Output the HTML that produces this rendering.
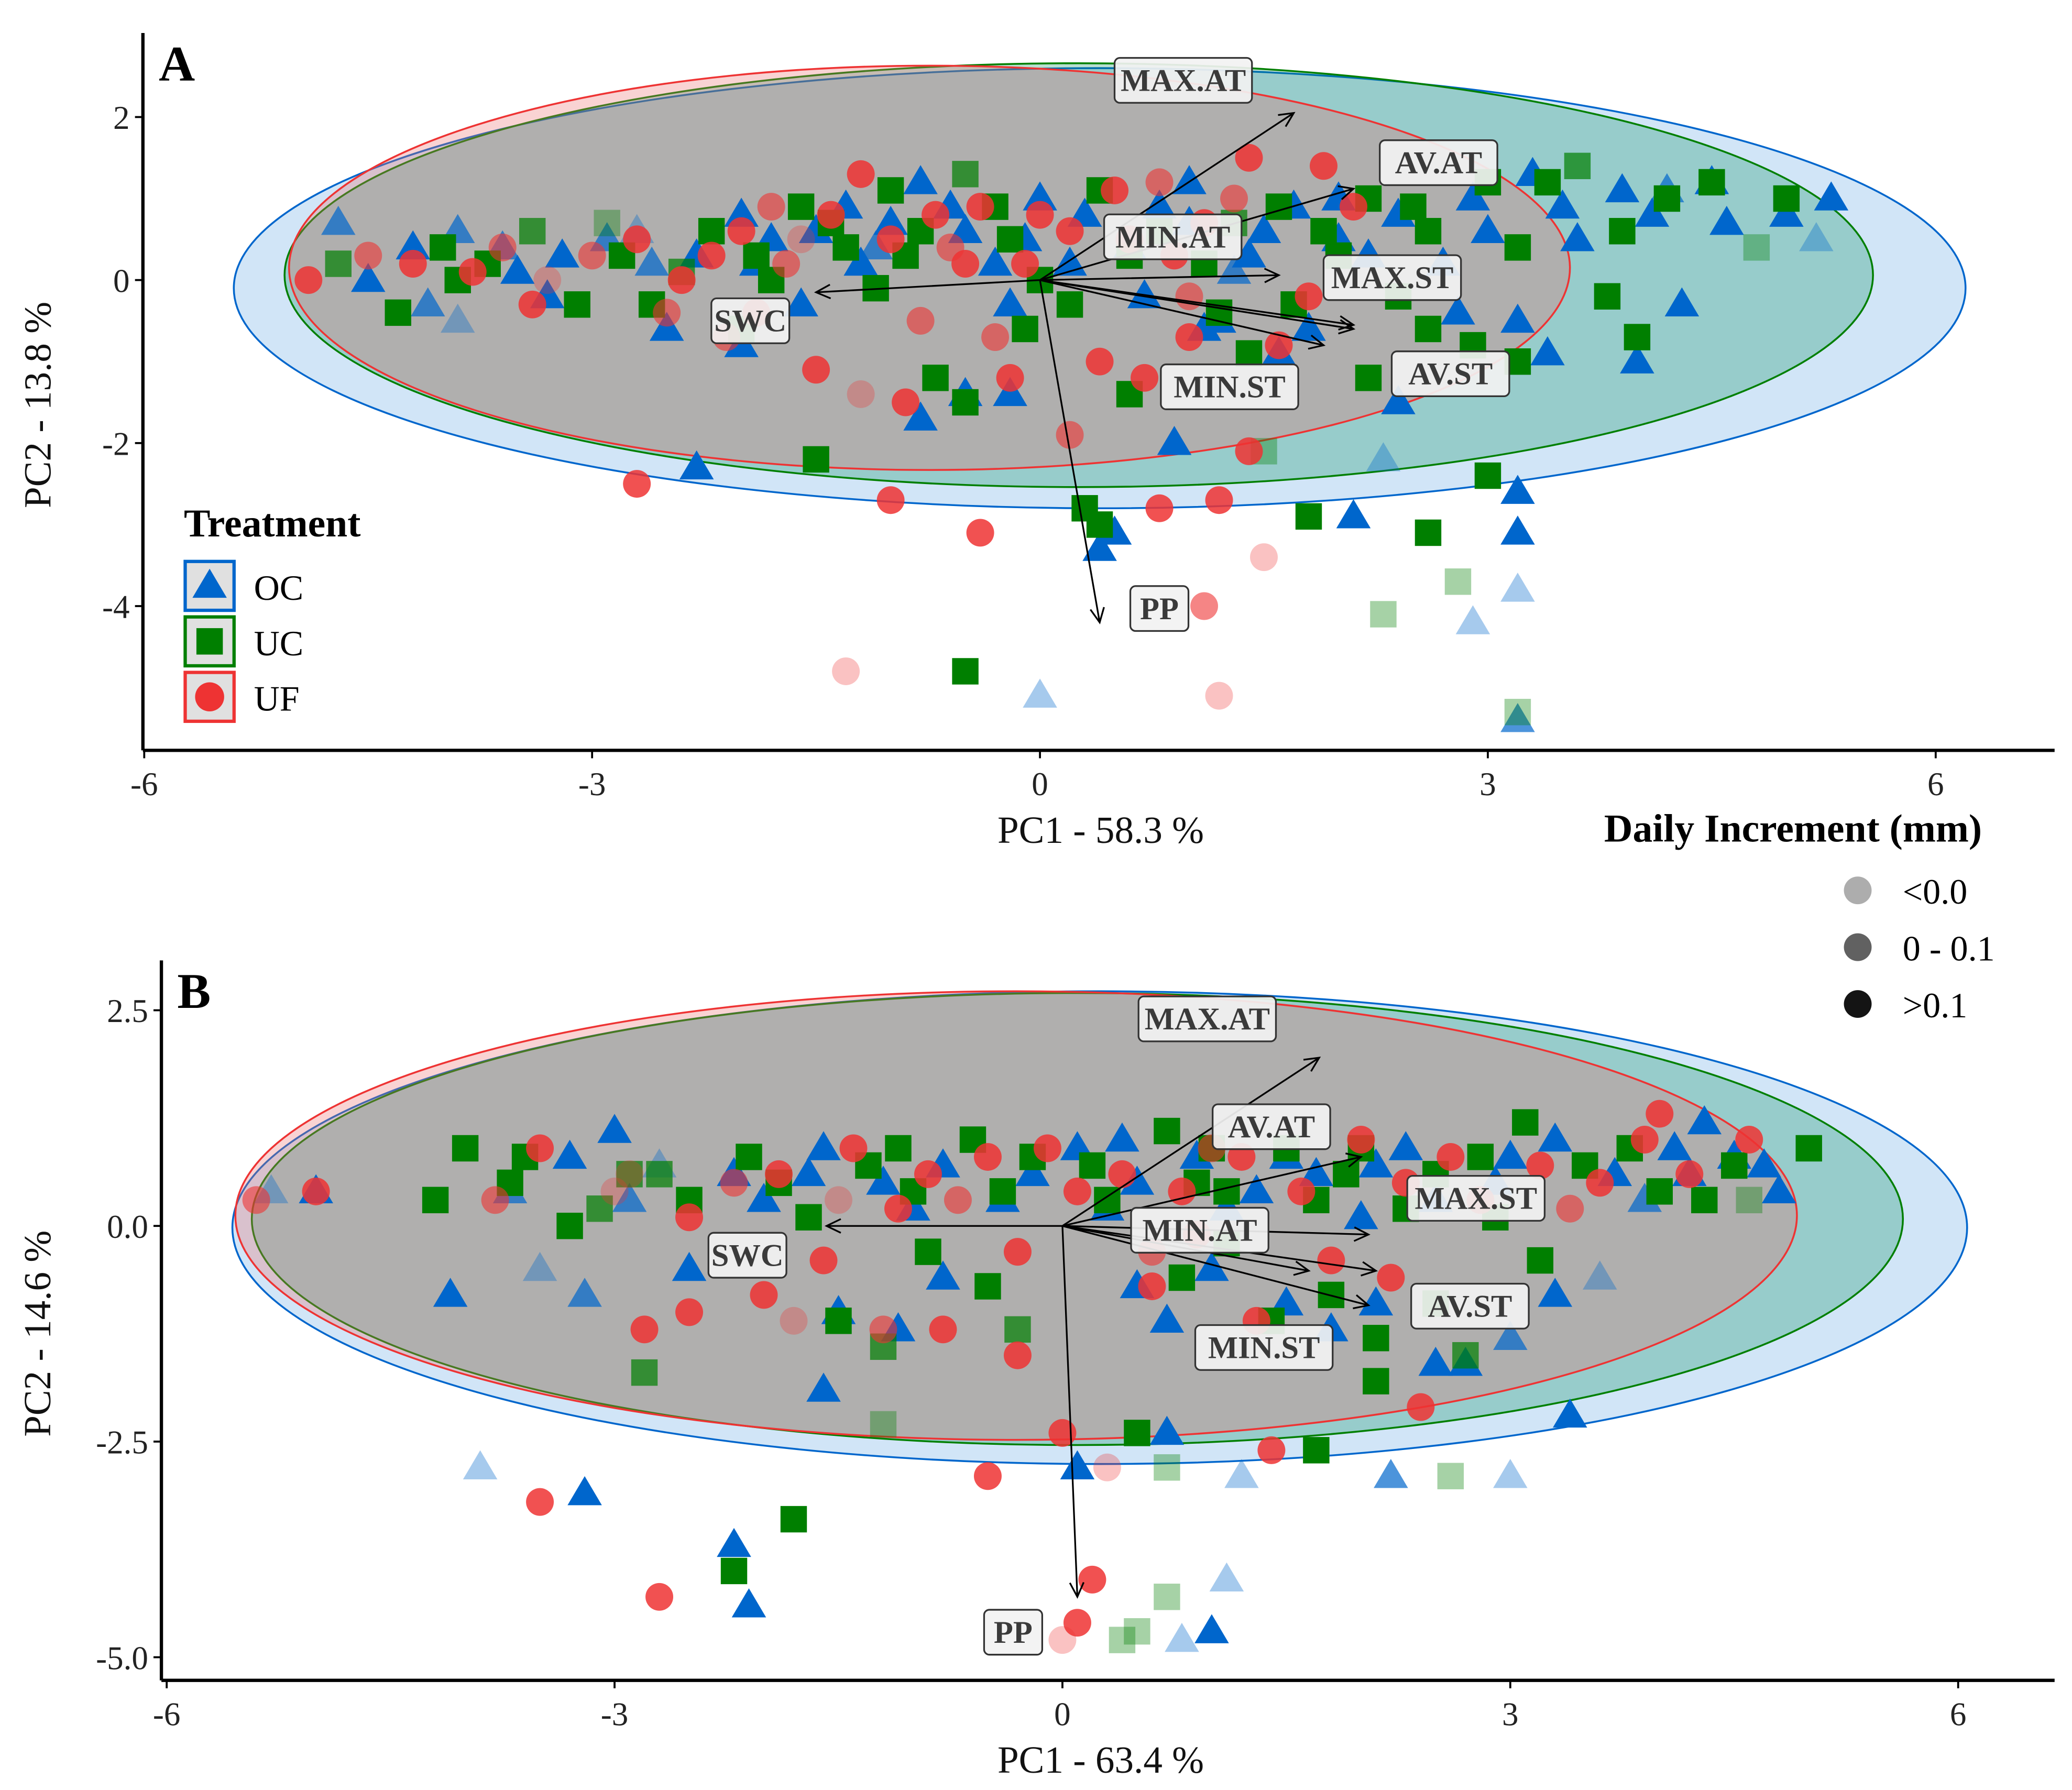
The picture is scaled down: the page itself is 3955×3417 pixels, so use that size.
<!DOCTYPE html>
<html><head><meta charset="utf-8"><style>
html,body{margin:0;padding:0;background:#fff}
svg{display:block}
text{font-family:"Liberation Serif",serif}
</style></head><body>
<svg id="chart" xmlns="http://www.w3.org/2000/svg" width="3955" height="3417" viewBox="0 0 1568 1355" font-family="Liberation Serif, serif">
<g id="root"></g>
</svg>
<script>
// ---------- DATA ----------
const xTicks = [-6, -3, 0, 3, 6];
const yTicksA = [2, 0, -2, -4];
const yTicksB = [2.5, 0, -2.5, -5];
const yTickLabelsB = ["2.5", "0.0", "-2.5", "-5.0"];
const treatments = ["OC", "UC", "UF"];
const incrementLabels = ["<0.0", "0 - 0.1", ">0.1"];
// points: [pc1, pc2, incrementClass(0,1,2)]
const ocA = [[-4.5,0,2],[-4.2,0.4,2],[-3.9,0.6,1],[-3.5,0.1,2],[-3.2,0.3,2],[-2.9,0.5,1],[-2.5,-0.6,2],[-2.3,0.3,2],[-2,0.8,2],[-1.8,0.5,2],[-1.5,0.6,2],[-1.3,0.9,2],[-1,0.7,2],[-0.8,1.2,2],[-0.5,0.6,2],[-0.3,0.2,2],[0,1,2],[0.3,0.8,2],[0.6,0.4,2],[1,0.7,2],[1.4,0.3,2],[1.7,0.9,2],[2,0.5,2],[2.4,0.8,2],[2.7,0.2,2],[3,0.6,2],[3.3,1.3,2],[3.6,0.5,2],[3.9,1.1,2],[4.1,0.8,2],[4.5,1.2,2],[4.6,0.7,2],[5,0.8,2],[5.3,1,2],[5.2,0.5,0],[3.2,-0.5,2],[4.3,-0.3,2],[4,-1,2],[3.4,-0.9,2],[2.4,-1.5,2],[1.8,-0.6,2],[0.9,-2,2],[0.5,-3.1,2],[0.4,-3.3,2],[-0.8,-1.7,2],[-0.5,-1.4,2],[-0.2,-1.4,2],[-2.3,-2.3,2],[3.2,-2.6,2],[3.2,-3.1,2],[2.1,-2.9,2],[0,-5.1,0],[2.9,-4.2,0],[3.2,-3.8,0],[3.2,-5.4,1],[2.3,-2.2,0],[-2,-0.8,2],[-3.9,-0.5,0],[-4.7,0.7,1],[-0.2,-0.3,2],[1.1,-0.6,2],[2,1,2],[1.5,0.6,2],[0.2,0.2,2],[-1.2,0.2,2],[-2.6,0.2,1],[-3.3,-0.2,2],[1.2,-0.5,2],[-3.6,0.4,1],[-2.7,0.6,0],[-1.9,0.2,2],[-1.1,0.4,1],[-0.6,0.9,2],[0.8,0.9,2],[1.3,0.1,1],[2.2,0.3,2],[2.9,1.0,2],[3.5,0.9,2],[4.2,1.1,1],[-1.6,-0.3,2],[0.7,-0.2,2],[1.6,-0.9,2],[2.8,-0.4,2],[-4.1,-0.3,1],[-0.1,0.5,2],[1.0,1.2,2]];
const ucA = [[-4.3,-0.4,2],[-4,0.4,2],[-3.7,0.2,2],[-3.4,0.6,1],[-3.1,-0.3,2],[-2.8,0.3,2],[-2.6,-0.3,2],[-2.2,0.6,2],[-1.9,0.3,2],[-1.6,0.9,2],[-1.3,0.4,2],[-1,1.1,2],[-0.8,0.6,2],[-0.5,1.3,1],[-0.2,0.5,2],[0.4,1.1,2],[0.8,0.6,2],[1.1,0.2,2],[1.6,0.9,2],[2.2,1,2],[2.6,0.6,2],[3,1.2,2],[3.6,1.4,1],[3.9,0.6,2],[4.2,1,2],[4.5,1.2,2],[5,1,2],[4.8,0.4,0],[3.8,-0.2,2],[4,-0.7,2],[3.2,-1,2],[2.9,-0.8,2],[2.2,-1.2,2],[2.6,-0.6,2],[1.4,-0.9,2],[0.6,-1.4,2],[-0.5,-1.5,2],[-0.7,-1.2,2],[-1.5,-2.2,2],[0.3,-2.8,2],[0.4,-3,2],[1.8,-2.9,2],[2.6,-3.1,2],[3,-2.4,2],[2.8,-3.7,0],[2.3,-4.1,0],[-0.5,-4.8,2],[3.2,-5.3,0],[1.5,-2.1,0],[-0.1,-0.6,2],[1.2,-0.4,2],[-2,-0.6,2],[0,0,2],[-1.8,0,2],[2,0.3,2],[3.4,1.2,2],[-4.7,0.2,1],[-3.9,0.0,2],[-2.4,0.1,1],[-1.4,0.7,2],[-0.9,0.3,2],[-0.3,0.9,2],[0.6,0.3,2],[1.3,0.7,1],[1.9,0.6,2],[2.5,0.9,2],[3.2,0.4,2],[-1.1,-0.1,2],[0.2,-0.3,2],[1.7,-0.3,2],[2.4,-0.2,2],[-2.9,0.7,0]];
const ufA = [[-4.9,0,2],[-4.5,0.3,1],[-4.2,0.2,2],[-3.8,0.1,2],[-3.4,-0.3,2],[-3,0.3,1],[-2.7,0.5,2],[-2.4,0,2],[-2,0.6,2],[-1.7,0.2,1],[-1.4,0.8,2],[-1.2,1.3,2],[-1,0.5,2],[-0.7,0.8,2],[-0.4,0.9,2],[-0.1,0.2,2],[0.2,0.6,2],[0.5,1.1,2],[0.8,1.2,1],[1.1,0.7,2],[1.4,1.5,2],[1.9,1.4,2],[2.1,0.9,2],[1.8,-0.2,2],[1.6,-0.8,2],[1,-0.7,2],[0.7,-1.2,2],[0.2,-1.9,1],[-0.2,-1.2,2],[-0.9,-1.5,2],[-1.2,-1.4,0],[-1.5,-1.1,2],[-2.7,-2.5,2],[-1,-2.7,2],[-0.4,-3.1,2],[0.8,-2.8,2],[1.2,-2.7,2],[1.5,-3.4,0],[1.1,-4,1],[1.2,-5.1,0],[-1.3,-4.8,0],[1.4,-2.1,2],[0.4,-1,2],[-0.5,0.2,2],[0.9,0.3,2],[-2.1,-0.7,1],[-1.9,-0.4,2],[-3.3,0,0],[-0.8,-0.5,1],[-3.6,0.4,1],[-2.2,0.3,2],[-1.6,0.5,0],[-0.6,0.4,1],[0.0,0.8,2],[0.6,0.5,2],[1.3,1.0,1],[-1.8,0.9,1],[-0.3,-0.7,1],[1.0,-0.2,1],[-2.5,-0.4,1]];
const ocB = [[-5.3,0.4,0],[-5,0.4,2],[-4.1,-0.8,2],[-3.5,-0.5,0],[-3.2,-0.8,1],[-3,1.1,2],[-2.5,-0.5,2],[-2,0.3,2],[-1.6,0.9,2],[-1.2,0.5,2],[-0.8,0.7,2],[-0.4,0.3,2],[0.1,0.9,2],[0.5,0.5,2],[0.9,0.8,2],[1.3,0.4,2],[1.7,0.6,2],[2.1,0.7,2],[2.5,0.3,2],[2.9,0.5,2],[3.3,1,2],[3.7,0.6,2],[4.1,0.9,2],[4.3,1.2,2],[4.7,0.7,2],[4.8,0.4,2],[4.2,0.6,2],[3.6,-0.6,0],[3.3,-0.8,2],[3,-1.3,1],[2.7,-1.6,2],[2.5,-1.6,2],[3.4,-2.2,2],[1.8,-1.2,2],[1.5,-0.9,2],[0.7,-1.1,2],[-0.8,-0.6,2],[-1.5,-1,2],[-1.6,-1.9,2],[0.7,-2.4,2],[0.1,-2.8,2],[-3.9,-2.8,0],[-3.2,-3.1,2],[-2.2,-3.7,2],[-2.1,-4.4,2],[1.1,-4.1,0],[1,-4.7,2],[0.8,-4.8,0],[2.2,-2.9,1],[3,-2.9,0],[1.2,-2.9,0],[-1.7,0.6,2],[0.3,0.2,2],[2,0.1,2],[-2.9,0.3,1],[1.1,0.2,2],[-3.7,0.4,1],[-2.7,0.7,0],[-2.2,0.6,2],[-1.0,0.2,2],[-0.2,0.6,2],[0.4,1.0,2],[1.5,0.8,2],[2.3,0.9,2],[3.0,0.8,2],[3.9,0.3,1],[-1.1,-1.2,2],[0.5,-0.7,2],[1.0,-0.5,2],[2.1,-0.9,2],[-3.3,0.8,2],[4.5,0.8,2]];
const ucB = [[-4.2,0.3,2],[-4,0.9,2],[-3.6,0.8,2],[-3.3,0,2],[-2.9,0.6,1],[-2.5,0.3,2],[-2.1,0.8,2],[-1.7,0.1,2],[-1.3,0.7,2],[-1,0.4,2],[-0.6,1,2],[-0.2,0.8,2],[0.3,0.3,2],[0.7,1.1,2],[1.1,0.4,2],[1.5,0.9,2],[1.9,0.6,2],[2.3,0.2,2],[2.8,0.8,2],[3.1,1.2,2],[3.5,0.7,2],[4,0.4,2],[4.5,0.7,2],[5,0.9,2],[4.6,0.3,0],[3.2,-0.4,2],[2.5,-0.9,2],[2.1,-1.3,2],[2.1,-1.8,2],[2.7,-1.5,1],[1.4,-1.1,2],[0.8,-0.6,2],[-0.5,-0.7,2],[-1.5,-1.1,2],[-1.2,-1.4,1],[-2.8,-1.7,1],[-1.8,-3.4,2],[-2.2,-4,2],[-1.2,-2.3,0],[0.5,-2.4,2],[1.7,-2.6,2],[2.6,-2.9,0],[0.7,-4.3,0],[0.4,-4.8,0],[0.5,-4.7,0],[0.7,-2.8,0],[-0.3,-1.2,1],[1,0.9,2],[2,0.9,2],[-3.7,0.5,2],[-2.7,0.6,1],[-1.9,0.5,2],[-1.1,0.9,2],[-0.4,0.4,2],[0.2,0.7,2],[0.9,0.5,2],[1.7,0.3,2],[2.5,0.6,2],[3.8,0.9,2],[4.3,0.3,2],[-0.9,-0.3,2],[1.1,-0.2,2],[1.8,-0.8,2],[-3.1,0.2,1],[2.9,0.1,2]];
const ufB = [[-5.4,0.3,1],[-5,0.4,2],[-3.5,0.9,2],[-3,0.4,0],[-2.5,0.1,2],[-1.9,0.6,2],[-1.4,0.9,2],[-1.1,0.2,2],[-0.9,0.6,2],[-0.5,0.8,2],[-0.1,0.9,2],[0.4,0.6,2],[0.8,0.4,2],[1.2,0.8,2],[1.6,0.4,2],[2,1,2],[2.3,0.5,2],[2.8,0.3,2],[3.2,0.7,2],[3.6,0.5,2],[3.9,1,2],[4,1.3,2],[4.2,0.6,2],[4.6,1,2],[2.2,-0.6,2],[1.3,-1.1,2],[0.6,-0.7,2],[-0.3,-0.3,2],[-0.8,-1.2,2],[-1.2,-1.2,1],[-2,-0.8,2],[-2.5,-1,2],[-2.8,-1.2,2],[-0.3,-1.5,2],[-0.5,-2.9,2],[0,-2.4,2],[0.3,-2.8,0],[1.4,-2.6,2],[2.4,-2.1,2],[-3.5,-3.2,2],[-2.7,-4.3,2],[0.2,-4.1,2],[0.1,-4.6,2],[0,-4.8,0],[-1.8,-1.1,0],[-1.5,0.3,0],[0.9,-0.1,2],[-3.8,0.3,1],[-2.2,0.5,1],[-0.7,0.3,1],[0.1,0.4,2],[1.0,0.9,1],[2.6,0.8,2],[3.4,0.2,1],[-1.6,-0.4,2],[0.6,-0.3,1],[1.8,-0.4,2],[-2.9,0.6,0]];
// ellipses: [cx, cy, rx, ry] per treatment
const ellA = [[0.4,-0.1,5.8,2.7],[0.26,0.06,5.32,2.6],[-0.74,0.15,4.29,2.48]];
const ellB = [[0.25,-0.02,5.81,2.74],[0.1,0.08,5.53,2.62],[-0.31,0.12,5.23,2.6]];
// loadings
const loadNames = ["MAX.AT","AV.AT","MIN.AT","MAX.ST","AV.ST","MIN.ST","SWC","PP"];
const loadEndA = [[1.7,2.05],[2.1,1.12],[1.6,0.06],[2.1,-0.55],[2.1,-0.6],[1.9,-0.8],[-1.5,-0.15],[0.4,-4.2]];
const loadLabA = [[0.96,2.45],[2.67,1.44],[0.89,0.53],[2.36,0.03],[2.75,-1.15],[1.27,-1.31],[-1.94,-0.5],[0.8,-4.03]];
const loadEndB = [[1.72,1.95],[2.0,0.8],[2.05,-0.1],[1.65,-0.52],[2.1,-0.52],[2.05,-0.92],[-1.58,0.0],[0.1,-4.3]];
const loadLabB = [[0.97,2.4],[1.4,1.15],[0.92,-0.05],[2.77,0.32],[2.73,-0.93],[1.35,-1.41],[-2.11,-0.34],[-0.33,-4.71]];

// ---------- DRAW ----------
const NS = "http://www.w3.org/2000/svg";
const root = document.getElementById('root');
const colors = ["#0066cc","#007f00","#ee3333"];
const fills = ["rgba(90,160,225,0.28)","rgba(0,140,90,0.28)","rgba(235,110,110,0.3)"];
const alphas = [0.35,0.7,1];
const FF = '"Liberation Serif", serif';
function mk(tag, attrs, parent){const e=document.createElementNS(NS,tag);for(const k in attrs)e.setAttribute(k,attrs[k]);(parent||root).appendChild(e);return e;}
function txt(s, attrs, parent){attrs['font-family']=FF;const e=mk('text',attrs,parent);e.textContent=s;return e;}

function panel(P){
  const g = mk('g',{});
  
  
  const sx = v => P.x0 + v*P.kx;
  const sy = v => P.y0 - v*P.ky;
  const eg = mk('g',{},g);
  
  
  P.ell.forEach((e,i)=>{
    const el = mk('ellipse',{cx:sx(e[0]),cy:sy(e[1]),rx:e[2]*P.kx,ry:e[3]*P.ky,fill:fills[i],stroke:colors[i],'stroke-width':1.4},eg);
    
    
  });
  P.pts.forEach((arr,i)=>{
    const pg = mk('g',{},g);
    
    
    arr.forEach(p=>{
      const x=sx(p[0]), y=sy(p[1]), op=alphas[p[2]];
      let m;
      if(i===0) m = mk('polygon',{points:`${x},${y-13} ${x-13},${y+9} ${x+13},${y+9}`,fill:colors[0],'fill-opacity':op},pg);
      else if(i===1) m = mk('rect',{x:x-10,y:y-10,width:20,height:20,fill:colors[1],'fill-opacity':op},pg);
      else m = mk('circle',{cx:x,cy:y,r:10.5,fill:colors[2],'fill-opacity':op*0.85},pg);
      
      
    });
  });
  const ag = mk('g',{},g);
  
  
  loadNames.forEach((n,i)=>{
    const e=P.end[i];
    const x1=sx(0),y1=sy(0),x2=sx(e[0]),y2=sy(e[1]);
    const a=Math.atan2(y2-y1,x2-x1), h=12;
    const l = mk('path',{d:`M${x1},${y1}L${x2},${y2}M${x2-h*Math.cos(a-0.45)},${y2-h*Math.sin(a-0.45)}L${x2},${y2}L${x2-h*Math.cos(a+0.45)},${y2-h*Math.sin(a+0.45)}`,stroke:'#000','stroke-width':1.3,fill:'none'},ag);
    
    
  });
  loadNames.forEach((n,i)=>{
    const p=P.lab[i];
    const cx=sx(p[0]),cy=sy(p[1]);
    const w=n.length*15+14;
    const lg = mk('g',{},g);
    
    
    mk('rect',{x:cx-w/2,y:cy-17,width:w,height:34,rx:4,fill:'#f2f2f2','fill-opacity':0.92,stroke:'#333','stroke-width':1.3},lg);
    txt(n,{x:cx,y:cy+8,'text-anchor':'middle','font-size':24,'font-weight':'bold',fill:'#3a3a3a'},lg);
  });
  const ax = mk('g',{},g);
  
  
  mk('line',{x1:P.axL,y1:P.top,x2:P.axL,y2:P.axB,stroke:'#000','stroke-width':2.5},ax);
  mk('line',{x1:P.axL,y1:P.axB,x2:1555,y2:P.axB,stroke:'#000','stroke-width':2.5},ax);
  xTicks.forEach(t=>{
    const x=sx(t);
    mk('line',{x1:x,y1:P.axB,x2:x,y2:P.axB+6,stroke:'#000','stroke-width':1.5},ax);
    const tl=txt(String(t),{x:x,y:P.axB+34,'text-anchor':'middle','font-size':25,fill:'#222'},ax);
    
    
  });
  P.yt.forEach((t,i)=>{
    const y=sy(t);
    mk('line',{x1:P.axL-6,y1:y,x2:P.axL,y2:y,stroke:'#000','stroke-width':1.5},ax);
    const s=P.ytl?P.ytl[i]:String(t);
    const tl=txt(s,{x:P.axL-10,y:y+9,'text-anchor':'end','font-size':25,fill:'#222'},ax);
    
    
  });
  const xt=txt(P.xTitle,{x:833,y:P.axB+70,'text-anchor':'middle','font-size':29,fill:'#111'},g);
  
  
  const yc=(P.top+P.axB)/2+10;
  const yt=txt(P.yTitle,{x:38,y:yc,'text-anchor':'middle','font-size':29,fill:'#111',transform:`rotate(-90 38 ${yc})`},g);
  
  
  const pl=txt(P.letter,{x:P.axL+12,y:P.top+36,'font-size':38,'font-weight':'bold',fill:'#000'},g);
  
  
}

panel({name:'panel-a',x0:787,y0:212,kx:113,ky:61.7,axL:108,axB:568,top:25,ell:ellA,pts:[ocA,ucA,ufA],end:loadEndA,lab:loadLabA,yt:yTicksA,xTitle:'PC1 - 58.3 %',yTitle:'PC2 - 13.8 %',letter:'A'});
panel({name:'panel-b',x0:804,y0:928,kx:113,ky:65.3,axL:122,axB:1272,top:727,ell:ellB,pts:[ocB,ucB,ufB],end:loadEndB,lab:loadLabB,yt:yTicksB,ytl:yTickLabelsB,xTitle:'PC1 - 63.4 %',yTitle:'PC2 - 14.6 %',letter:'B'});

const lg = mk('g',{});


txt('Treatment',{x:139,y:406,'font-size':30,'font-weight':'bold',fill:'#000'},lg);
treatments.forEach((t,i)=>{
  const y=424+i*42;
  const k=mk('g',{},lg);
  
  
  mk('rect',{x:140,y:y+1,width:37,height:37,fill:'#e0e0e0',stroke:colors[i],'stroke-width':2.5},k);
  const cx=158.5, cy=y+19.5;
  if(i===0) mk('polygon',{points:`${cx},${cy-13} ${cx-13},${cy+9} ${cx+13},${cy+9}`,fill:colors[0]},k);
  else if(i===1) mk('rect',{x:cx-10,y:cy-10,width:20,height:20,fill:colors[1]},k);
  else mk('circle',{cx:cx,cy:cy,r:11,fill:colors[2]},k);
  txt(t,{x:192,y:y+30,'font-size':27,fill:'#000'},k);
});
const ig = mk('g',{});


txt('Daily Increment (mm)',{x:1214,y:637,'font-size':30,'font-weight':'bold',fill:'#000'},ig);
incrementLabels.forEach((t,i)=>{
  const y=674+i*43;
  const k=mk('g',{},ig);
  
  
  mk('circle',{cx:1406,cy:y,r:10.5,fill:'#000','fill-opacity':[0.32,0.62,0.92][i]},k);
  txt(t,{x:1440,y:y+10,'font-size':27,fill:'#000'},k);
});
</script>
</body></html>
